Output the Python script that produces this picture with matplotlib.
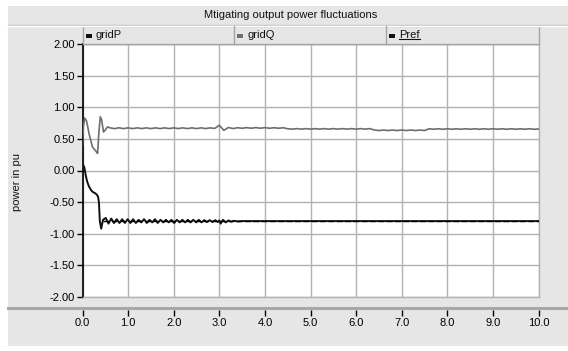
import numpy as np
import matplotlib
matplotlib.use("Agg")
import matplotlib.pyplot as plt
from matplotlib.patches import Rectangle
from matplotlib.lines import Line2D

plt.rcParams['font.family'] = ['Liberation Sans', 'DejaVu Sans']

# ---------------- data ----------------
title = "Mtigating output power fluctuations"
ylabel = "power in pu"
series_names = ["gridP", "gridQ", "Pref"]
x_ticks = [0, 1, 2, 3, 4, 5, 6, 7, 8, 9, 10]
x_ticklabels = ["0.0", "1.0", "2.0", "3.0", "4.0", "5.0", "6.0", "7.0", "8.0", "9.0", "10.0"]
y_ticks = [2.0, 1.5, 1.0, 0.5, 0.0, -0.5, -1.0, -1.5, -2.0]
y_ticklabels = ["2.00", "1.50", "1.00", "0.50", "0.00", "-0.50", "-1.00", "-1.50", "-2.00"]

# gridP: start transient
gp_head_t = [0.00, 0.02, 0.04, 0.07, 0.10, 0.14, 0.18, 0.21, 0.25, 0.28, 0.31, 0.34, 0.36, 0.38, 0.41]
gp_head_v = [0.06, 0.08, 0.05, -0.07, -0.17, -0.25, -0.30, -0.33, -0.35, -0.36, -0.38, -0.41, -0.50, -0.80, -0.92]
# gridP: oscillation 0.45 .. 2.97 (half-period samples, 0.06 s)
gp_osc_start, gp_osc_step = 0.45, 0.06
gp_osc_v = [-0.78, -0.75, -0.84, -0.76, -0.83, -0.77, -0.83, -0.77, -0.83, -0.77,
            -0.83, -0.77, -0.83, -0.78, -0.82, -0.77, -0.83, -0.78, -0.82, -0.77,
            -0.83, -0.78, -0.82, -0.78, -0.82, -0.78, -0.83, -0.78, -0.82, -0.78,
            -0.82, -0.78, -0.82, -0.78, -0.82, -0.78, -0.82, -0.785, -0.815, -0.785,
            -0.815, -0.785, -0.815]
# gridP: tail
gp_tail_t = [3.00, 3.03, 3.08, 3.14, 3.20, 3.26, 3.32, 3.40, 3.50, 10.00]
gp_tail_v = [-0.79, -0.84, -0.78, -0.82, -0.79, -0.81, -0.795, -0.805, -0.80, -0.80]

# gridQ: start transient
gq_head_t = [0.00, 0.02, 0.05, 0.09, 0.15, 0.22, 0.30, 0.33, 0.36, 0.39, 0.42, 0.46, 0.50, 0.55]
gq_head_v = [0.40, 0.70, 0.83, 0.78, 0.56, 0.37, 0.30, 0.27, 0.61, 0.85, 0.80, 0.61, 0.64, 0.69]
# gridQ: 0.6 .. 10.0 sampled every 0.1 s
gq_reg_start, gq_reg_step = 0.6, 0.1
gq_reg_v = [0.675, 0.662, 0.675, 0.662, 0.674, 0.663, 0.674, 0.663, 0.674, 0.663,   # 0.6-1.5
            0.674, 0.663, 0.674, 0.663, 0.674, 0.663, 0.674, 0.663, 0.674, 0.663,   # 1.6-2.5
            0.674, 0.663, 0.674, 0.665,                                             # 2.6-2.9
            0.715, 0.635, 0.680, 0.663, 0.676, 0.668, 0.678, 0.668, 0.678, 0.668,   # 3.0-3.9
            0.678, 0.668, 0.676, 0.668, 0.676, 0.660, 0.654, 0.662, 0.654, 0.662,   # 4.0-4.9
            0.654, 0.662, 0.654, 0.662, 0.654, 0.662, 0.654, 0.662, 0.654, 0.662,   # 5.0-5.9
            0.654, 0.662, 0.654, 0.662, 0.640, 0.632, 0.640, 0.632, 0.640, 0.632,   # 6.0-6.9
            0.640, 0.632, 0.640, 0.632, 0.640, 0.632, 0.660, 0.652, 0.660, 0.652,   # 7.0-7.9
            0.660, 0.652, 0.660, 0.652, 0.660, 0.652, 0.660, 0.652, 0.660, 0.652,   # 8.0-8.9
            0.660, 0.652, 0.660, 0.652, 0.660, 0.652, 0.660, 0.652, 0.660, 0.652,   # 9.0-9.9
            0.656]                                                                  # 10.0

pref_t = [0.45, 10.0]
pref_v = [-0.80, -0.80]

# ---------------- assemble ----------------
gp_osc_t = np.round(gp_osc_start + gp_osc_step * np.arange(len(gp_osc_v)), 3)
gp_t = np.concatenate([gp_head_t, gp_osc_t, gp_tail_t])
gp_v = np.concatenate([gp_head_v, gp_osc_v, gp_tail_v])
gq_reg_t = np.round(gq_reg_start + gq_reg_step * np.arange(len(gq_reg_v)), 3)
gq_t = np.concatenate([gq_head_t, gq_reg_t])
gq_v = np.concatenate([gq_head_v, gq_reg_v])

# ---------------- layout ----------------
W, H = 568, 351
BG = "#e6e6e6"
GRID = "#b2b2b2"
fig = plt.figure(figsize=(W / 100, H / 100), dpi=100, facecolor="white")

def fx(px):
    return px / W

def fy(py):
    return 1 - py / H

# grey panel (behind everything)
fig.patches.append(Rectangle((fx(8), fy(346)), fx(W) - fx(8), fy(6) - fy(346),
                             transform=fig.transFigure, facecolor=BG, edgecolor="none", zorder=-10))
# etched line under title
fig.lines.append(Line2D([fx(8), 1], [fy(24.5), fy(24.5)], transform=fig.transFigure, color="#c4c4c4", lw=1))
fig.lines.append(Line2D([fx(8), 1], [fy(25.5), fy(25.5)], transform=fig.transFigure, color="white", lw=1))

fig.text(fx(291), fy(15), title, ha="center", va="center", fontsize=8, color="#111111")

# main axes
L, R, T, B = 82.5, 538.5, 44, 297
ax = fig.add_axes([fx(L), fy(B), fx(R) - fx(L), fy(T) - fy(B)])
ax.set_facecolor("white")
ax.set_xlim(0, 10)
ax.set_ylim(-2, 2)
ax.set_xticks(x_ticks)
ax.set_yticks(y_ticks)
ax.set_yticklabels(y_ticklabels, fontsize=8)
ax.tick_params(axis="x", bottom=False, labelbottom=False)
ax.tick_params(axis="y", direction="out", length=4, width=1, pad=1.5, colors="black")
ax.grid(True, color=GRID, lw=1)
ax.set_axisbelow(True)
for s in ["top", "right", "bottom"]:
    ax.spines[s].set_color(GRID)
    ax.spines[s].set_linewidth(1)
ax.spines["left"].set_color("black")
ax.spines["left"].set_linewidth(1.2)

ax.plot(gq_t, gq_v, color="#6e6e6e", lw=1.2, zorder=3)
ax.plot(gp_t, gp_v, color="#111111", lw=1.4, zorder=4)
ax.plot(pref_t, pref_v, color="#000000", lw=1.0, ls=(0, (4, 2)), zorder=5)

fig.text(fx(17), fy(182), ylabel, rotation=90, ha="center", va="center", fontsize=8, color="#111111")

# bottom separator and x axis
fig.lines.append(Line2D([fx(8), 1], [fy(308), fy(308)], transform=fig.transFigure, color="#a8a8a8", lw=2.2))
axx = fig.add_axes([fx(L), fy(309.5), fx(R) - fx(L), 0.0001])
axx.set_xlim(0, 10)
axx.set_xticks(x_ticks)
axx.set_xticklabels(x_ticklabels, fontsize=8)
axx.set_yticks([])
axx.patch.set_alpha(0)
for s in axx.spines.values():
    s.set_visible(False)
axx.tick_params(axis="x", direction="out", length=4, width=1, pad=2, colors="black")

# legend band
band_top, band_bot = 26, 44
cells = [83, 234, 386, 539]
fig.patches.append(Rectangle((fx(cells[0]), fy(band_bot)), fx(cells[-1]) - fx(cells[0]), fy(band_top) - fy(band_bot),
                             transform=fig.transFigure, facecolor=BG, edgecolor="#a4a4a4", lw=1, zorder=1))
for cx in cells[1:-1]:
    fig.lines.append(Line2D([fx(cx), fx(cx)], [fy(band_bot), fy(band_top)], transform=fig.transFigure,
                            color="#a4a4a4", lw=1))
leg_colors = ["#111111", "#6e6e6e", "#111111"]
txts = []
for i, name in enumerate(series_names):
    x0 = cells[i]
    fig.patches.append(Rectangle((fx(x0 + 3), fy(37.5)), fx(6), fy(33.5) - fy(37.5),
                                 transform=fig.transFigure, facecolor=leg_colors[i], edgecolor="none", zorder=2))
    t = fig.text(fx(x0 + 13), fy(34.5), name, ha="left", va="center", fontsize=8, color="#111111")
    txts.append(t)

fig.canvas.draw()
r = fig.canvas.get_renderer()
bb = txts[2].get_window_extent(r)
fig.lines.append(Line2D([bb.x0 / W, bb.x1 / W], [(bb.y0 + 0.5) / H, (bb.y0 + 0.5) / H],
                        transform=fig.transFigure, color="#111111", lw=0.8))

fig.savefig("out.png", dpi=100, facecolor=fig.get_facecolor())
